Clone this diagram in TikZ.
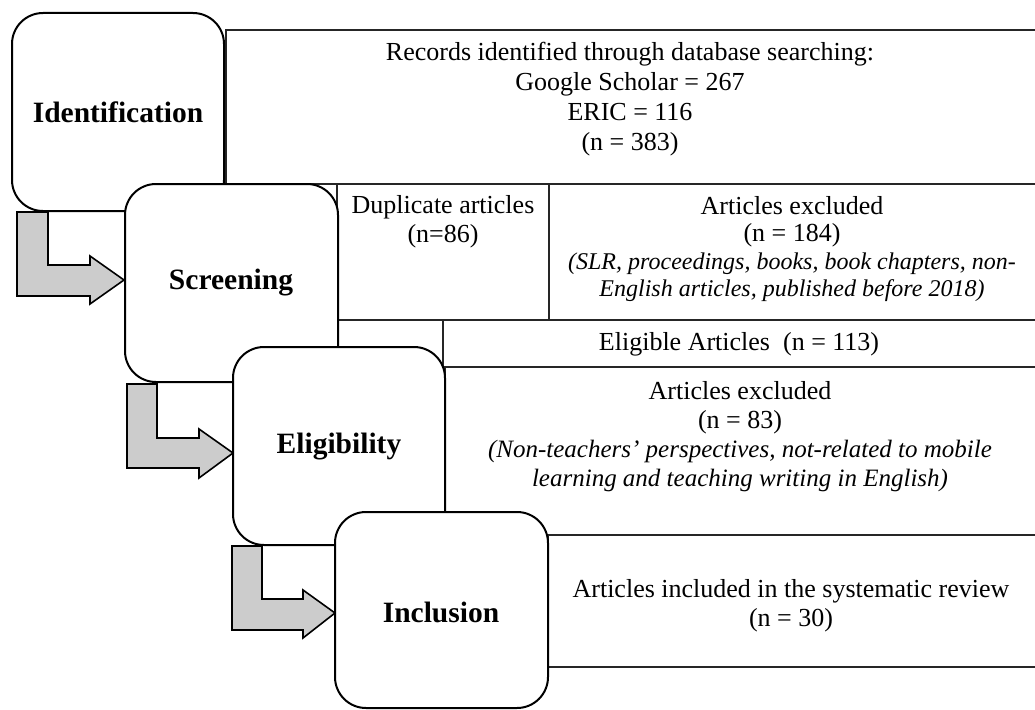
\documentclass[tikz,border=0pt]{standalone}
\usepackage{fontspec}
\setmainfont{Liberation Serif}
\begin{document}
\begin{tikzpicture}[x=1pt,y=-1pt,
  stage/.style={draw=black, line width=2pt, rounded corners=31pt, fill=white, inner sep=0pt},
  stagelabel/.style={font=\fontsize{29.5}{33}\selectfont\bfseries, inner sep=0pt},
  cell/.style={draw=black!85, line width=1.2pt},
  txt/.style={align=center, font=\fontsize{26}{29}\selectfont, inner sep=0pt},
  blockarrow/.style={draw=black, line width=1.6pt, fill=gray!40, line join=miter}
]
\useasboundingbox (0,0) rectangle (1035,709);
\clip (0,0) rectangle (1035,709);

% table cells
\draw[cell] (226,30) rectangle (1045,184);
\draw[cell] (337,184) rectangle (549,320);
\draw[cell] (549,184) rectangle (1045,320);
\draw[cell] (337,320) rectangle (443,367);
\draw[cell] (443,320) rectangle (1045,367);
\draw[cell] (445,367) rectangle (1045,535);
\draw[cell] (548,535) rectangle (1045,667);

% cell texts
\node[txt, font=\fontsize{26}{29.8}\selectfont] (rec) at (630,99) {Records identified through database searching:\\Google Scholar = 267\\ERIC = 116\\(n = 383)};
\node[txt] (dup) at (443,222) {Duplicate articles\\(n=86)};
\node[txt, font=\fontsize{26}{27.5}\selectfont] (exa) at (792,249) {Articles excluded\\(n = 184)\\\fontsize{24}{27.5}\selectfont\itshape (SLR, proceedings, books, book chapters, non-\\\fontsize{24}{27.5}\selectfont\itshape English articles, published before 2018)};
\node[txt] (elg) at (739,344) {Eligible Articles\ \ (n = 113)};
\node[txt] (exb) at (740,437) {Articles excluded\\(n = 83)\\\fontsize{25}{29}\selectfont\itshape (Non-teachers’ perspectives, not-related to mobile\\\fontsize{25}{29}\selectfont\itshape learning and teaching writing in English)};
\node[txt] (inc) at (791,606) {Articles included in the systematic review\\(n = 30)};

% stages and arrows
\draw[stage] (12,13) rectangle (224,211);
\node[stagelabel] (sid) at (118,112) {Identification};

\draw[blockarrow] (17,212) -- (48,212) -- (48,265) -- (90,265) -- (90,256) -- (124,280) -- (90,304) -- (90,296) -- (17,296) -- cycle;

\draw[stage] (125,184) rectangle (338,382);
\node[stagelabel] (sscr) at (231,283) {Screening};

\draw[blockarrow] (127,384) -- (157,384) -- (157,438) -- (199,438) -- (199,429) -- (233,453) -- (199,478) -- (199,468) -- (127,468) -- cycle;

\draw[stage] (233,347) rectangle (445,545);
\node[stagelabel] (selg) at (339,447) {Eligibility};

\draw[blockarrow] (232,546) -- (262,546) -- (262,599) -- (303,599) -- (303,590) -- (335,613) -- (303,638) -- (303,630) -- (232,630) -- cycle;

\draw[stage] (335,512) rectangle (548,708);
\node[stagelabel] (sinc) at (441,612) {Inclusion};
\end{tikzpicture}
\end{document}
